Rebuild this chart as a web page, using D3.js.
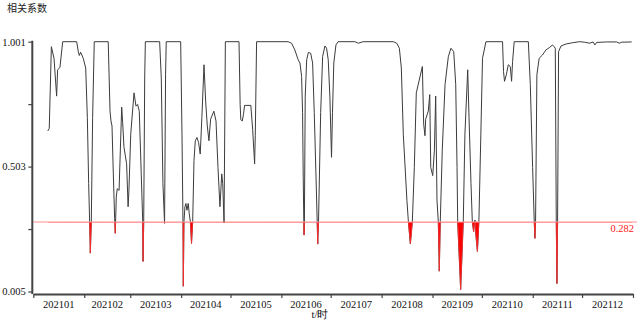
<!DOCTYPE html>
<html>
<head>
    <meta charset="utf-8">
    <title>相关系数</title>
    <style>
        body { margin: 0; background: #ffffff; }
        #chart { width: 637px; height: 320px; }
        .tick-label { font-family: "Liberation Serif", "Times New Roman", serif; font-size: 10.5px; fill: #111; }
        .title { font-family: "Noto Sans CJK SC", sans-serif; font-size: 10px; fill: #222; }
        .axis path, .axis line { stroke: #444; }
    </style>
    <script src="https://d3js.org/d3.v7.min.js"></script>
</head>
<body>
    <div id="chart"></div>

    <script>
        // x values are days since 2021-01-01 (hourly series)
        var days = [
            8.8, 9.7, 11.0, 12.6, 14.2, 14.8, 16.2, 17.9, 26.4, 27.4, 28.0, 28.8, 30.4, 31.9, 32.9, 33.7, 34.3, 34.7, 35.3, 36.1, 37.1,
            45.6, 46.7, 47.3, 47.9, 48.7, 49.5, 49.9, 50.5, 51.1, 52.2, 53.8, 54.4, 55.2, 56.8, 57.7, 58.2, 59.3, 61.3, 62.5, 63.5, 64.5,
            65.7, 66.6, 66.8, 67.2, 67.8, 68.2, 76.9, 77.9, 78.9, 79.9, 80.5, 80.9, 89.7, 90.5, 91.1, 91.3, 91.7, 92.3, 92.9, 93.5, 94.3,
            94.9, 95.6, 96.3, 97.0, 97.8, 98.6, 99.6, 100.6, 101.6, 102.6, 103.9, 104.9, 105.9, 106.9, 107.9, 109.9, 111.2, 112.4, 113.6,
            114.7, 115.3, 116.1, 116.9,
            125.2, 125.9, 126.3, 127.2, 127.9, 128.6, 132.4, 133.5, 134.7, 135.1, 135.9, 155.1, 157.2, 159.2,
            161.2, 162.3, 163.3, 163.9, 164.3, 164.65, 164.8, 165.0, 165.5, 166.4, 167.4, 168.8, 170.0, 171.0, 172.1, 172.8, 173.1, 173.6,
            174.9, 176.1, 177.5, 178.5, 179.5, 180.5, 181.5, 182.1, 182.9, 184.2, 185.5, 195.7, 197.8, 200.8, 219.1, 221.2,
            222.8, 224.0, 225.2, 227.4, 228.3, 229.5, 230.7, 231.9,
            233.1, 236.8, 237.6, 238.4, 238.8, 240.4, 241.3, 241.9, 243.1, 244.1, 244.9, 245.7, 246.5, 247.1, 247.7, 248.9,
            250.6, 252.6, 254.2, 255.9, 257.1, 257.9, 258.3, 260.1, 261.7, 262.7, 264.4, 265.2, 266.4, 267.2, 268.0, 268.6,
            268.8, 269.0, 269.3, 270.3, 271.2, 272.4, 273.4, 275.5,
            285.6, 286.2, 286.8, 287.9, 289.1, 290.3, 291.1, 291.7, 292.7, 301.3, 302.5, 303.9, 304.9, 305.3, 305.7,
            306.5, 307.9, 309.9, 312.0, 314.0, 316.0, 317.0, 317.7, 318.3, 318.7, 319.1, 319.7,
            321.2, 324.3, 328.3, 332.4, 335.4, 338.7, 340.7, 341.8, 342.8, 348.9, 355.0, 356.6, 358.1, 364.2
        ];
        var values = [
            0.645, 0.655, 0.981, 0.935, 0.784, 0.889, 0.898, 1.001, 1.001, 0.961, 0.946, 0.959, 0.935, 0.896, 0.698, 0.435, 0.283, 0.158, 0.283, 0.698, 1.001,
            1.001, 0.724, 0.685, 0.665, 0.474, 0.296, 0.237, 0.382, 0.415, 0.408, 0.740, 0.678, 0.580, 0.514, 0.343, 0.408, 0.632, 0.797, 0.744, 0.751, 0.724,
            0.474, 0.283, 0.125, 0.283, 0.856, 1.001, 1.001, 0.856, 0.435, 0.277, 0.869, 1.001, 1.001, 0.632, 0.283, 0.026, 0.283, 0.343, 0.356, 0.329, 0.356,
            0.316, 0.283, 0.197, 0.283, 0.527, 0.606, 0.619, 0.599, 0.553, 0.698, 0.909, 0.764, 0.665, 0.606, 0.692, 0.724, 0.685, 0.500, 0.343,
            0.474, 0.435, 0.278, 1.001,
            1.001, 0.750, 0.690, 0.685, 0.710, 0.747, 0.747, 0.652, 0.514, 0.626, 1.001, 1.001, 0.995, 0.968,
            0.929, 0.916, 0.863, 0.718, 0.454, 0.283, 0.230, 0.283, 0.784, 0.929, 0.958, 0.955, 0.916, 0.718, 0.454, 0.283, 0.194, 0.283,
            0.718, 0.942, 0.984, 0.975, 0.929, 0.784, 0.540, 0.718, 0.916, 0.988, 1.001, 1.001, 0.995, 1.001, 1.001, 0.995,
            0.975, 0.896, 0.632, 0.369, 0.283, 0.195, 0.283, 0.500,
            0.797, 0.902, 0.672, 0.626, 0.692, 0.724, 0.790, 0.500, 0.467, 0.566, 0.784, 0.369, 0.283, 0.086, 0.283, 0.566,
            0.830, 0.941, 0.975, 0.961, 0.830, 0.500, 0.283, 0.013, 0.283, 0.632, 0.889, 0.698, 0.435, 0.283, 0.244, 0.283,
            0.290, 0.283, 0.237, 0.165, 0.283, 0.632, 0.935, 1.001,
            1.001, 0.882, 0.843, 0.869, 0.909, 0.902, 0.843, 0.922, 1.001, 1.001, 0.830, 0.500, 0.283, 0.217, 0.283,
            0.869, 0.935, 0.948, 0.968, 0.977, 0.988, 0.981, 0.975, 0.283, 0.037, 0.283, 0.961,
            0.984, 0.992, 0.997, 1.001, 0.999, 0.995, 1.000, 0.988, 0.998, 1.000, 1.000, 0.995, 0.999, 1.000
        ];
        var months = ["202101", "202102", "202103", "202104", "202105", "202106",
                      "202107", "202108", "202109", "202110", "202111", "202112"];
        var yTicks = [0.005, 0.254, 0.503, 0.752, 1.001];
        var threshold = 0.282;

        var W = 637, H = 320;
        var margin = { top: 41.7, right: 4, bottom: 27.5, left: 33.3 };

        var start = new Date(Date.UTC(2021, 0, 1));
        var end = new Date(Date.UTC(2022, 0, 1));
        var data = days.map(function(d, i) {
            return { t: new Date(start.getTime() + d * 864e5), v: values[i] };
        });

        var svg = d3.select('#chart')
            .append('svg')
            .attr('width', W)
            .attr('height', H);

        var x = d3.scaleUtc()
            .domain([start, end])
            .range([margin.left, 633]);

        var y = d3.scaleLinear()
            .domain([0.005, 1.001])
            .range([H - margin.bottom - 1, margin.top]);

        var axisY = H - margin.bottom + 1.5;

        // title
        svg.append('text')
            .attr('class', 'title')
            .attr('x', 7)
            .attr('y', 12)
            .text('相关系数');

        // line
        var line = d3.line()
            .x(function(d) { return x(d.t); })
            .y(function(d) { return y(d.v); });

        svg.append('path')
            .datum(data)
            .attr('d', line)
            .attr('fill', 'none')
            .attr('stroke', '#3c3c3c')
            .attr('stroke-width', 1);

        // red area below threshold
        svg.append('clipPath')
            .attr('id', 'below')
            .append('rect')
            .attr('x', 0)
            .attr('y', y(threshold))
            .attr('width', W)
            .attr('height', H - y(threshold));

        var area = d3.area()
            .x(function(d) { return x(d.t); })
            .y0(y(threshold))
            .y1(function(d) { return y(d.v); });

        svg.append('path')
            .datum(data)
            .attr('clip-path', 'url(#below)')
            .attr('d', area)
            .attr('fill', '#ff0000')
            .attr('stroke', '#ff3030')
            .attr('stroke-width', 0.8);

        // threshold line
        svg.append('line')
            .attr('x1', x(start))
            .attr('x2', W)
            .attr('y1', y(threshold))
            .attr('y2', y(threshold))
            .attr('stroke', '#ff9090')
            .attr('stroke-width', 1);

        svg.append('text')
            .attr('class', 'tick-label')
            .attr('x', 634)
            .attr('y', y(threshold) + 9.5)
            .attr('text-anchor', 'end')
            .style('fill', '#ff2020')
            .text(d3.format('.3f')(threshold));

        // y axis
        var gy = svg.append('g')
            .attr('class', 'axis')
            .attr('transform', 'translate(' + (margin.left - 1) + ',0)')
            .call(d3.axisLeft(y)
                .tickValues(yTicks)
                .tickSize(4)
                .tickSizeOuter(0)
                .tickFormat(function(d, i) { return i % 2 === 0 ? d3.format('.3f')(d) : ''; }));
        gy.select('.domain').attr('stroke-width', 2).attr('d', 'M0,' + (margin.top - 1) + 'V' + axisY);
        gy.selectAll('.tick line').attr('stroke-width', 1.2);
        gy.selectAll('text').attr('class', 'tick-label').attr('x', -6.5);

        // x axis
        var monthStarts = d3.utcMonth.range(start, d3.utcDay.offset(end, 1));
        var gx = svg.append('g')
            .attr('class', 'axis')
            .attr('transform', 'translate(0,' + axisY + ')')
            .call(d3.axisBottom(x)
                .tickValues(monthStarts)
                .tickSize(4)
                .tickSizeOuter(0)
                .tickFormat(''));
        gx.select('.domain').attr('stroke-width', 2);
        gx.selectAll('.tick line').attr('stroke-width', 1.2);

        svg.append('g')
            .selectAll('text')
            .data(months)
            .enter()
            .append('text')
            .attr('class', 'tick-label')
            .attr('x', function(d, i) { return (x(monthStarts[i]) + x(monthStarts[i + 1])) / 2; })
            .attr('y', axisY + 14)
            .attr('text-anchor', 'middle')
            .text(function(d) { return d; });

        svg.append('text')
            .attr('class', 'tick-label')
            .attr('x', 320)
            .attr('y', H - 2)
            .attr('text-anchor', 'middle')
            .text('t/时');
    </script>
</body>
</html>
